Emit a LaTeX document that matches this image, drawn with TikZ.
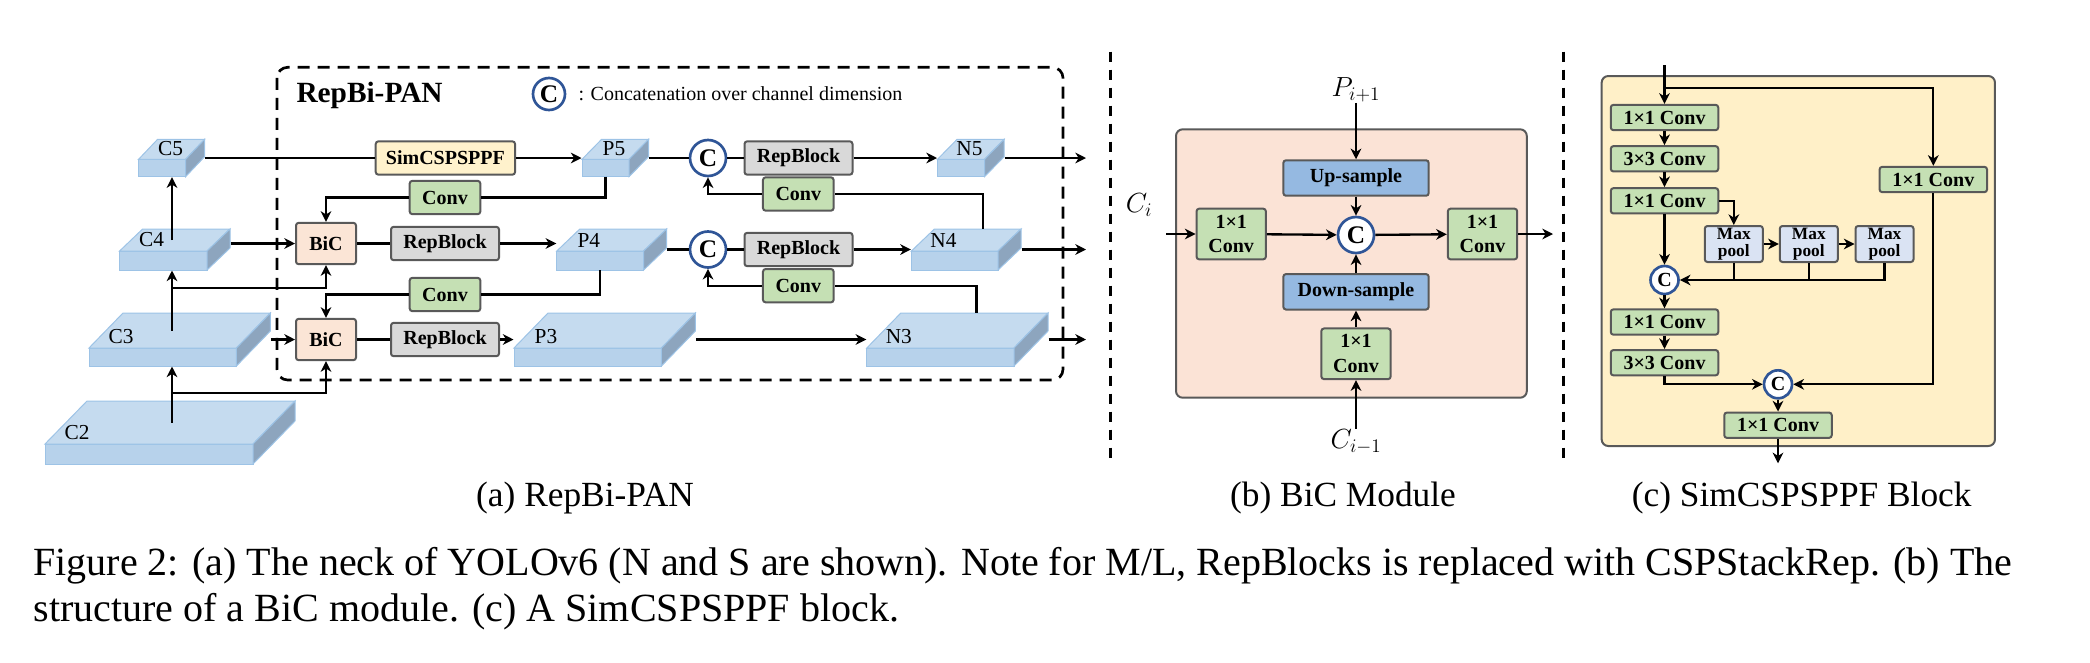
\documentclass[tikz,border=0pt]{standalone}
\usepackage{fontspec}
\setmainfont{Liberation Serif}
\usetikzlibrary{arrows.meta,fit}

\definecolor{fmfront}{RGB}{183,210,235}
\definecolor{fmtop}{RGB}{197,219,239}
\definecolor{fmside}{RGB}{141,165,190}
\definecolor{fmedge}{RGB}{157,195,230}
\definecolor{boxline}{RGB}{89,89,89}
\definecolor{simfill}{RGB}{255,242,204}
\definecolor{convfill}{RGB}{197,224,180}
\definecolor{bicfill}{RGB}{251,229,214}
\definecolor{rbfill}{RGB}{217,217,217}
\definecolor{catline}{RGB}{47,85,151}
\definecolor{bicbg}{RGB}{251,227,214}
\definecolor{samplefill}{RGB}{149,185,225}
\definecolor{sppfbg}{RGB}{255,240,200}
\definecolor{poolfill}{RGB}{218,227,243}

\tikzset{every picture/.style={line width=0.75pt}}
\tikzset{
  conn/.style={line width=1.75pt},
  arr/.style={conn, -{Stealth[length=8pt,width=8pt,inset=2.5pt]}},
  blk/.style={draw=boxline, line width=1.5pt, rounded corners=2pt, inner sep=0pt, align=center, font=\bfseries\fontsize{15}{17}\selectfont},
  simbox/.style={blk, fill=simfill, minimum width=104.5pt, minimum height=25pt},
  convbox/.style={blk, fill=convfill, minimum width=53pt, minimum height=25pt},
  rbbox/.style={blk, fill=rbfill, minimum width=81pt, minimum height=25pt},
  bicbox/.style={blk, fill=bicfill, minimum width=45pt, minimum height=31pt},
  catc/.style={circle, draw=catline, fill=white, line width=2pt, inner sep=0pt, minimum size=27pt, font=\bfseries\fontsize{19}{19}\selectfont},
  smallcat/.style={catc, minimum size=21pt, font=\bfseries\fontsize{15}{15}\selectfont},
  sconv/.style={blk, fill=convfill, minimum width=52pt, minimum height=38pt, font=\bfseries\fontsize{15}{18.5}\selectfont},
  sampbox/.style={blk, fill=samplefill, minimum width=109pt, minimum height=26.6pt},
  pconv/.style={blk, fill=convfill, minimum width=80.6pt, minimum height=19pt},
  poolbox/.style={blk, fill=poolfill, minimum width=43.5pt, minimum height=27pt, font=\bfseries\fontsize{13}{13}\selectfont},
  outerbox/.style={draw=boxline, line width=1.5pt, rounded corners=5pt, inner sep=0pt},
  panframe/.style={line width=2pt, dash pattern=on 9pt off 6pt, rounded corners=8pt},
  sepline/.style={line width=2.25pt, dash pattern=on 7.5pt off 6pt},
  fmlab/.style={inner sep=0pt, font=\fontsize{16}{18}\selectfont},
  mathlab/.style={inner sep=0pt, font=\fontsize{21}{24}\selectfont},
  subcap/.style={inner sep=0pt, font=\fontsize{26.5}{32}\selectfont}
}

% feature map: name, x, y (front top left), width, height, depth x, depth y, label
\newcommand\fmap[8]{%
  \filldraw[fill=fmfront, draw=fmedge] (#2,#3) rectangle ++(#4,#5);
  \filldraw[fill=fmtop, draw=fmedge] (#2,#3) -- ++(#6,-#7) -- ++(#4,0) -- ++(-#6,#7) -- cycle;
  \filldraw[fill=fmside, draw=fmedge] (#2,#3) ++(#4,0) -- ++(#6,-#7) -- ++(0,#5) -- ++(-#6,#7) -- cycle;
  \node[fit={(#2,{#3-#7}) ({#2+#4+#6},{#3+#5})}, inner sep=0pt] (#1) {};
  \coordinate (#1t) at ({#2+(#4+#6)/2},{#3-#7/2});
  \coordinate (#1b) at ({#2+#4/2},{#3+#5});
  \node[fmlab] (#1l) at ({#2+32},{#3-11}) {#8};
}

\begin{document}
\begin{tikzpicture}[x=0.75pt,y=0.75pt,yscale=-1,xscale=1]
\useasboundingbox (0,0) rectangle (2090,662);

%Feature maps: backbone
\fmap{c5}{138.6}{159.3}{47}{17.4}{19}{20}{C5}
\fmap{c4}{119.6}{251}{87.4}{19}{23}{22}{C4}
\fmap{c3}{89}{348}{147.4}{18}{34}{35}{C3}
\fmap{c2}{45}{444}{208}{20}{42}{43}{C2}
%Feature maps: neck
\fmap{p5}{582}{159.3}{47}{17.4}{19.6}{20}{P5}
\fmap{n5}{937.5}{159.3}{47}{17.4}{19.6}{20}{N5}
\fmap{p4}{556.8}{251}{86.8}{19}{23}{22}{P4}
\fmap{n4}{911.4}{251}{86.6}{19}{23}{22}{N4}
\fmap{p3}{514}{348}{147.4}{18}{34}{35}{P3}
\fmap{n3}{866.8}{348}{147.2}{18}{34}{35}{N3}

%Blocks: top-down path
\node[simbox] (sim) at (445.4,158) {SimCSPSPPF};
\node[convbox] (conv1) at (445,197.5) {Conv};
\node[bicbox] (bic1) at (326,243.5) {BiC};
\node[rbbox] (rb1) at (445,243.5) {RepBlock};
\node[convbox] (conv2) at (445,294.5) {Conv};
\node[bicbox] (bic2) at (326,339.5) {BiC};
\node[rbbox] (rb2) at (445,339.5) {RepBlock};
%Blocks: bottom-up path
\node[catc] (cu) at (708,158) {C};
\node[rbbox] (rb3) at (798.5,158) {RepBlock};
\node[convbox] (conv3) at (798.3,194) {Conv};
\node[catc] (cm) at (708,249.5) {C};
\node[rbbox] (rb4) at (798.5,249.5) {RepBlock};
\node[convbox] (conv4) at (798.3,285.7) {Conv};

\coordinate (sp) at (172,0);
\coordinate (sp4) at (172,288.3);
\coordinate (sp3) at (172,393.3);
\coordinate (o5) at (1086,158);
\coordinate (o4) at (1086,249.5);
\coordinate (o3) at (1086,339.5);

%Straight Lines: level 5
\draw[conn] (c5) -- (sim);
\draw[arr] (sim) -- (p5);
\draw[conn] (p5) -- (cu);
\draw[conn] (cu) -- (rb3);
\draw[arr] (rb3) -- (n5);
\draw[arr] (n5) -- (o5);
%Straight Lines: level 4
\draw[arr] (c4t -| sp) -- (c5.south -| sp);
\draw[arr] (c4.east |- bic1) -- (bic1);
\draw[conn] (bic1) -- (rb1);
\draw[arr] (rb1) -- (p4.west |- rb1);
\draw[conn] (p5b) |- (conv1);
\draw[arr] (conv1) -| (bic1);
\draw[arr] (c3t -| sp) -- (c4.south -| sp);
\draw[arr] (sp4) -| (bic1);
\draw[conn] (p4) -- (cm);
\draw[conn] (cm) -- (rb4);
\draw[arr] (rb4) -- (n4);
\draw[arr] (n4) -- (o4);
\draw[conn] ([xshift=12.75pt]n4.north) |- (conv3);
\draw[arr] (conv3) -| (cu);
%Straight Lines: level 3
\draw[arr] (c3) -- (bic2);
\draw[conn] (bic2) -- (rb2);
\draw[arr] (rb2) -- (p3);
\draw[arr] (p3) -- (n3);
\draw[arr] (n3) -- (o3);
\draw[conn] (p4b) |- (conv2);
\draw[arr] (conv2) -| (bic2);
\draw[arr] (c2t -| sp) -- (c3.south -| sp);
\draw[arr] (sp3) -| (bic2);
\draw[conn] ([xshift=14.25pt]n3.north) |- (conv4);
\draw[arr] (conv4) -| (cm);

%Dashed frame, title and legend
\draw[panframe] (277,67.3) rectangle (1063,380);
\node[anchor=west, inner sep=0pt, font=\bfseries\fontsize{22}{26}\selectfont] (ttl) at (296,95) {RepBi-PAN};
\node[catc, minimum size=24pt] (lgc) at (549,94) {C};
\node[anchor=west, inner sep=0pt, font=\fontsize{15}{18}\selectfont] (lgt) at (578,94) {: Concatenation over channel dimension};

%Separators
\draw[sepline] (1110.7,51.7) -- (1110.7,463.3);
\draw[sepline] (1563.6,51.7) -- (1563.6,463.3);

%BiC module
\node[outerbox, fill=bicbg, minimum width=263.1pt, minimum height=201.3pt] (bicm) at (1351.4,263.5) {};
\node[sampbox] (up) at (1356,178) {Up-sample};
\node[catc] (bc) at (1356,235) {C};
\node[sconv] (bl) at (1231.2,234) {1×1\\Conv};
\node[sconv] (br) at (1482.5,234) {1×1\\Conv};
\node[sampbox] (down) at (1356,291.8) {Down-sample};
\node[sconv] (bb) at (1356,353.8) {1×1\\Conv};
\node[mathlab] (pl) at (1356,90) {$P_{i+1}$};
\node[mathlab] (cil) at (1139,205) {$C_i$};
\node[mathlab] (cml) at (1356,441.7) {$C_{i-1}$};
\coordinate (cin) at (1166,234);
\coordinate (bout) at (1553,234);
\draw[arr] (pl) -- (up);
\draw[arr] (up) -- (bc);
\draw[arr] (cin) -- (bl);
\draw[arr] (bl) -- (bc);
\draw[arr] (bc) -- (br);
\draw[arr] (br) -- (bout);
\draw[arr] (down) -- (bc);
\draw[arr] (bb) -- (down);
\draw[arr] (cml) -- (bb);

%SimCSPSPPF block
\node[outerbox, fill=sppfbg, minimum width=295pt, minimum height=277.5pt] (sppfm) at (1798.3,261) {};
\node[pconv] (s1) at (1664.5,117.5) {1×1 Conv};
\node[pconv] (s2) at (1664.5,158.8) {3×3 Conv};
\node[pconv] (s3) at (1664.5,200.8) {1×1 Conv};
\node[pconv] (sr) at (1933.3,179.5) {1×1 Conv};
\node[poolbox] (m1) at (1733.8,244) {Max\\pool};
\node[poolbox] (m2) at (1808.8,244) {Max\\pool};
\node[poolbox] (m3) at (1884.5,244) {Max\\pool};
\node[smallcat] (cc1) at (1664.5,280) {C};
\node[pconv] (s4) at (1664.5,322) {1×1 Conv};
\node[pconv] (s5) at (1664.5,362.7) {3×3 Conv};
\node[smallcat] (cc2) at (1778,384.3) {C};
\node[pconv] (s6) at (1778,425.2) {1×1 Conv};
\coordinate (sin) at (1664.5,65);
\coordinate (sj) at (1664.5,88.3);
\coordinate (sout) at (1778,463.3);
\draw[arr] (sin) -- (s1);
\draw[arr] (sj) -| (sr);
\draw[arr] (s1) -- (s2);
\draw[arr] (s2) -- (s3);
\draw[arr] (s3) -| (m1);
\draw[arr] (m1) -- (m2);
\draw[arr] (m2) -- (m3);
\draw[arr] (s3) -- (cc1);
\draw[conn] (m1) -- (m1 |- cc1);
\draw[conn] (m2) -- (m2 |- cc1);
\draw[arr] (m3) |- (cc1);
\draw[arr] (cc1) -- (s4);
\draw[arr] (s4) -- (s5);
\draw[arr] (s5) |- (cc2);
\draw[arr] (sr) |- (cc2);
\draw[arr] (cc2) -- (s6);
\draw[arr] (s6) -- (sout);

%Captions
\node[subcap] (capa) at (585,498) {(a) RepBi-PAN};
\node[subcap] (capb) at (1343,498) {(b) BiC Module};
\node[subcap] (capc) at (1801.7,498) {(c) SimCSPSPPF Block};
\node[anchor=base west, inner sep=0pt, font=\fontsize{30}{36}\selectfont] (cap1) at (33,575) {\makebox[1484pt][s]{Figure 2: (a) The neck of YOLOv6 (N and S are shown). Note for M/L, RepBlocks is replaced with CSPStackRep. (b) The}};
\node[anchor=base west, inner sep=0pt, font=\fontsize{30}{36}\selectfont] (cap2) at (33,621.7) {structure of a BiC module. (c) A SimCSPSPPF block.};

\end{tikzpicture}
\end{document}
